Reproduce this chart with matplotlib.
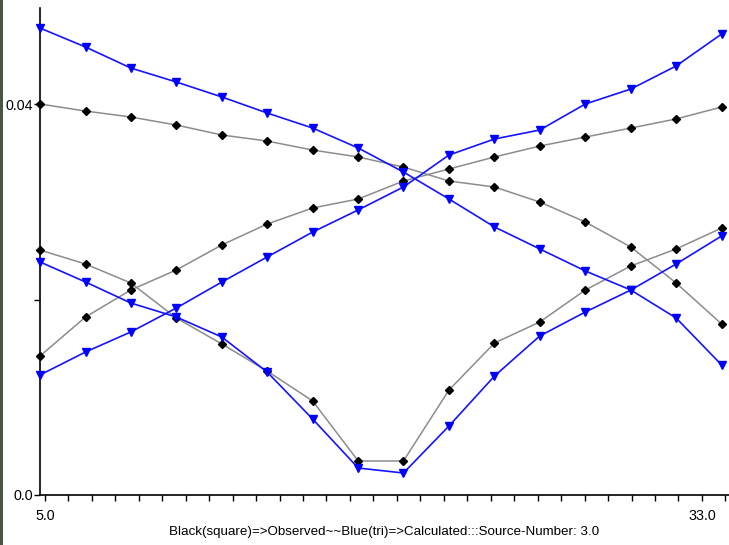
import matplotlib
matplotlib.use("Agg")
import matplotlib.pyplot as plt
from matplotlib.patches import Rectangle
from matplotlib import font_manager as fm

x = [4.79, 6.73, 8.66, 10.60, 12.54, 14.47, 16.41, 18.35, 20.28, 22.22,
     24.16, 26.09, 28.03, 29.97, 31.90, 33.84]

obs_1 = [0.0400, 0.03928, 0.03867, 0.03785, 0.03683, 0.03621, 0.03529, 0.03458,
         0.03355, 0.03212, 0.03151, 0.02997, 0.02793, 0.02537, 0.02169, 0.01749]
obs_2 = [0.01422, 0.01821, 0.02097, 0.02302, 0.02558, 0.02772, 0.02936, 0.03028,
         0.03212, 0.03335, 0.03458, 0.03570, 0.03662, 0.03754, 0.03847, 0.03969]
obs_3 = [0.02506, 0.02363, 0.02169, 0.01811, 0.01545, 0.01268, 0.00962, 0.00348,
         0.00348, 0.01074, 0.01555, 0.01770, 0.02097, 0.02343, 0.02517, 0.02731]

calc_1 = [0.04777, 0.04583, 0.04368, 0.04225, 0.04072, 0.03908, 0.03754, 0.03550,
          0.03304, 0.03028, 0.02742, 0.02517, 0.02292, 0.02097, 0.01811, 0.01330]
calc_2 = [0.01228, 0.01463, 0.01668, 0.01913, 0.02179, 0.02435, 0.02690, 0.02916,
          0.03151, 0.03478, 0.03642, 0.03734, 0.04000, 0.04153, 0.04389, 0.04716]
calc_3 = [0.02384, 0.02179, 0.01964, 0.01821, 0.01616, 0.01258, 0.00777, 0.00276,
          0.00225, 0.00706, 0.01217, 0.01627, 0.01872, 0.02097, 0.02363, 0.02650]

x_ticks = list(range(5, 35))
x_ticklabels = {5: "5.0", 33: "33.0"}
y_ticks = [0.0, 0.02, 0.04]
y_ticklabels = ["0.0", "", "0.04"]
xlabel = "Black(square)=>Observed~~Blue(tri)=>Calculated:::Source-Number: 3.0"

fam = ["Liberation Sans", "DejaVu Sans"]
fp = fm.FontProperties(family=fam, size=10.3)
fp_x = fm.FontProperties(family=fam, size=9.6)

fig = plt.figure(figsize=(7.29, 5.45), dpi=100)
fig.patch.set_facecolor("white")
ax = fig.add_axes([40 / 729, 50 / 545, 1 - 40 / 729, (495 - 8) / 545])
ax.set_facecolor("white")

for s in (obs_1, obs_2, obs_3):
    ax.plot(x, s, color="#8c8c8c", lw=1.1, marker="D", ms=3.6,
            mfc="black", mec="black", clip_on=False, zorder=3)
for s in (calc_1, calc_2, calc_3):
    ax.plot(x, s, color="#1414ff", lw=1.2, marker="v", ms=5.8,
            mfc="#0000ff", mec="#0000ff", clip_on=False, zorder=4)

ax.set_xlim(4.79, 4.79 + (729 - 40) / 23.464)
ax.set_ylim(0, (495 - 8) / 391 * 0.04)

for sp in ("top", "right"):
    ax.spines[sp].set_visible(False)
ax.spines["left"].set_linewidth(1.2)
ax.spines["bottom"].set_linewidth(1.2)

ax.set_xticks(x_ticks)
ax.set_xticklabels([x_ticklabels.get(t, "") for t in x_ticks], fontproperties=fp)
ax.set_yticks(y_ticks)
ax.set_yticklabels(y_ticklabels, fontproperties=fp)
ax.tick_params(axis="x", direction="out", length=4, width=1, pad=6)
ax.tick_params(axis="y", direction="out", length=4, width=1, pad=1)
ax.set_xlabel(xlabel, fontproperties=fp_x, labelpad=2)

fig.patches.append(Rectangle((0, 0), 3 / 729, 1, transform=fig.transFigure,
                             facecolor="#4a5546", edgecolor="none"))

fig.savefig("out.png", dpi=100)
